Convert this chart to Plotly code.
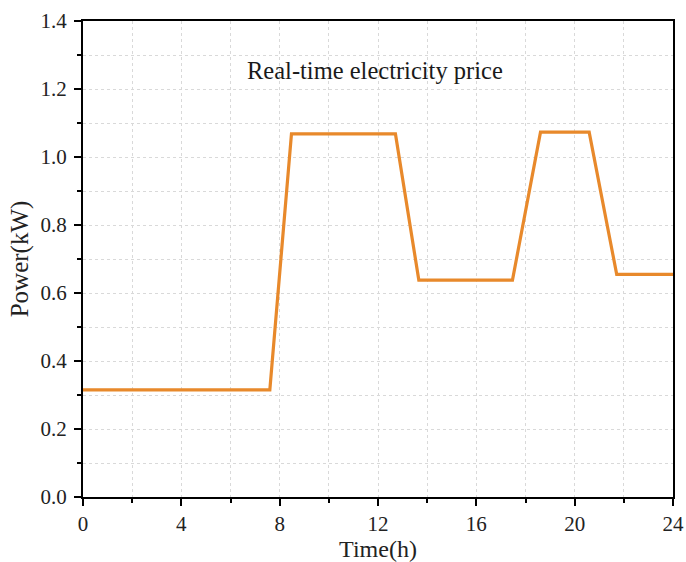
import plotly.graph_objects as go

time_h = [0, 7.6, 8.48, 12.71, 13.66, 17.47, 18.61, 20.59, 21.71, 24]
price = [0.315, 0.315, 1.068, 1.068, 0.638, 0.638, 1.073, 1.073, 0.655, 0.655]

x_ticks = [0, 4, 8, 12, 16, 20, 24]
y_ticks = [0.0, 0.2, 0.4, 0.6, 0.8, 1.0, 1.2, 1.4]

font_family = "Liberation Serif, Times New Roman, serif"

fig = go.Figure()
fig.add_trace(go.Scatter(
    x=time_h, y=price, mode="lines",
    line=dict(color="#E8892B", width=3.2),
    showlegend=False,
))

fig.add_annotation(
    text="Real-time electricity price", x=0.495, y=0.897, xref="paper", yref="paper",
    showarrow=False, font=dict(family=font_family, size=24.5, color="#1a1a1a"),
    xanchor="center", yanchor="middle",
)

axis_common = dict(
    showline=True, linecolor="black", linewidth=2, mirror=True,
    ticks="outside", tickcolor="black", tickwidth=2, ticklen=7,
    tickfont=dict(family=font_family, size=21, color="#222"),
    showgrid=True, gridcolor="#d9d9d9", gridwidth=1, griddash="dot",
    zeroline=False,
)

fig.update_xaxes(
    range=[0, 24], tickvals=x_ticks, ticktext=[str(v) for v in x_ticks],
    title=dict(text="Time(h)", font=dict(family=font_family, size=24, color="#222"), standoff=1),
    minor=dict(dtick=2, tick0=0, ticks="outside", ticklen=4, tickcolor="black", tickwidth=2,
               showgrid=True, gridcolor="#d9d9d9", griddash="dot"),
    **axis_common,
)
fig.update_yaxes(
    range=[0, 1.4], tickvals=y_ticks, ticktext=[f"{v:.1f}" for v in y_ticks],
    ticklabelstandoff=3,
    title=dict(text="Power(kW)", font=dict(family=font_family, size=25, color="#222"), standoff=5),
    minor=dict(dtick=0.1, tick0=0, ticks="outside", ticklen=4, tickcolor="black", tickwidth=2,
               showgrid=True, gridcolor="#d9d9d9", griddash="dot"),
    **axis_common,
)

fig.update_layout(
    width=686, height=562,
    margin=dict(l=83, r=13, t=21, b=65, autoexpand=False),
    plot_bgcolor="white", paper_bgcolor="white",
)

fig.write_html("out.html")
